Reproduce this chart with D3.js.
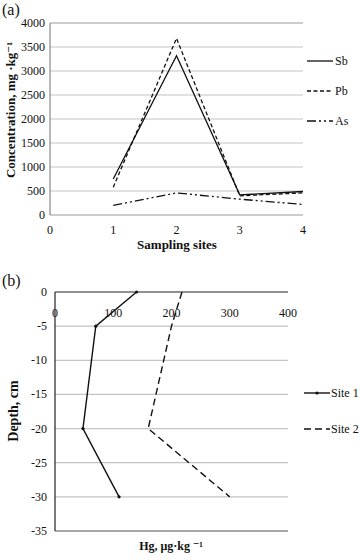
<!DOCTYPE html>
<html><head><meta charset="utf-8">
<script src="https://cdn.jsdelivr.net/npm/d3@7"></script>
<style>body{margin:0;background:#fff}svg{display:block}</style>
</head><body><div id="c"></div>
<script>
// Panel (a)
const sites = [1, 2, 3, 4];
const sb = [750, 3320, 420, 490];
const pb = [580, 3680, 400, 460];
const as = [200, 460, 330, 220];
const aXTicks = [0, 1, 2, 3, 4];
const aYTicks = [0, 500, 1000, 1500, 2000, 2500, 3000, 3500, 4000];
// Panel (b)
const depths = [0, -5, -20, -30];
const site1 = [140, 70, 48, 110];
const site2 = [218, 200, 160, 300];
const bXTicks = [0, 100, 200, 300, 400];
const bYTicks = [0, -5, -10, -15, -20, -25, -30, -35];

const FONT = "'Liberation Serif', 'Times New Roman', 'DejaVu Serif', serif";
const svg = d3.select("#c").append("svg").attr("width", 360).attr("height", 560)
  .attr("font-family", FONT).style("font-family", FONT).attr("fill", "#111");

// ---------- Panel (a)
const xa = d3.scaleLinear().domain([0, 4]).range([50, 303]);
const ya = d3.scaleLinear().domain([0, 4000]).range([215, 23]);
const ga = svg.append("g");
ga.append("text").attr("x", 2).attr("y", 15).attr("font-size", 16).text("(a)");
ga.selectAll(".gr").data(aYTicks.filter(d => d > 0)).join("line")
  .attr("x1", 50).attr("x2", 303).attr("y1", d => ya(d)).attr("y2", d => ya(d))
  .attr("stroke", d => d === 4000 ? "#999" : "#c4c4c4").attr("stroke-width", 1.2);
ga.append("line").attr("x1", 50).attr("x2", 303).attr("y1", ya(0)).attr("y2", ya(0)).attr("stroke", "#999").attr("stroke-width", 1.2);
ga.append("line").attr("x1", 50).attr("x2", 50).attr("y1", ya(0)).attr("y2", ya(4000)).attr("stroke", "#888").attr("stroke-width", 1.2);
ga.selectAll(".yt").data(aYTicks).join("text")
  .attr("x", 45).attr("y", d => ya(d) + 4).attr("text-anchor", "end").attr("font-size", 12).text(d => d);
ga.selectAll(".xt").data(aXTicks).join("text")
  .attr("x", d => xa(d)).attr("y", 234).attr("text-anchor", "middle").attr("font-size", 12).text(d => d);
ga.append("text").attr("x", 177).attr("y", 249).attr("text-anchor", "middle").attr("font-size", 13).attr("font-weight", "bold").text("Sampling sites");
ga.append("text").attr("transform", "translate(15,110) rotate(-90)").attr("text-anchor", "middle").attr("font-size", 13).attr("font-weight", "bold")
  .text("Concentration, mg ·kg\u207B\u00B9");

const seriesA = [
  {name: "Sb", vals: sb, dash: null, ly: 61},
  {name: "Pb", vals: pb, dash: "4,2.5", ly: 91},
  {name: "As", vals: as, dash: "9,3,2,3,2,3", ly: 121}
];
const lineA = d3.line().x((d, i) => xa(sites[i])).y(d => ya(d));
seriesA.forEach(s => {
  ga.append("path").attr("d", lineA(s.vals)).attr("fill", "none").attr("stroke", "#111")
    .attr("stroke-width", 1.3).attr("stroke-dasharray", s.dash);
  ga.append("line").attr("x1", 307).attr("x2", 333).attr("y1", s.ly).attr("y2", s.ly)
    .attr("stroke", "#111").attr("stroke-width", 1.3).attr("stroke-dasharray", s.dash);
  ga.append("text").attr("x", 335).attr("y", s.ly + 4).attr("font-size", 12).text(s.name);
});

// ---------- Panel (b)
const xb = d3.scaleLinear().domain([0, 400]).range([55, 288]);
const yb = d3.scaleLinear().domain([0, -35]).range([292, 531]);
const gb = svg.append("g");
gb.append("text").attr("x", 2).attr("y", 286).attr("font-size", 16).text("(b)");
gb.selectAll(".gr").data(bYTicks.filter(d => d < 0 && d > -35)).join("line")
  .attr("x1", 55).attr("x2", 288).attr("y1", d => yb(d)).attr("y2", d => yb(d))
  .attr("stroke", "#c4c4c4").attr("stroke-width", 1.2);
gb.append("line").attr("x1", 55).attr("x2", 288).attr("y1", yb(-35)).attr("y2", yb(-35)).attr("stroke", "#888").attr("stroke-width", 1.3);
gb.append("line").attr("x1", 55).attr("x2", 288).attr("y1", yb(0)).attr("y2", yb(0)).attr("stroke", "#222").attr("stroke-width", 1.2);
gb.append("line").attr("x1", 55).attr("x2", 55).attr("y1", yb(0)).attr("y2", yb(-35)).attr("stroke", "#222").attr("stroke-width", 1.2);
gb.selectAll(".yt").data(bYTicks).join("text")
  .attr("x", 47).attr("y", d => yb(d) + 4).attr("text-anchor", "end").attr("font-size", 12).text(d => d === 0 ? "0" : "-" + Math.abs(d));
gb.selectAll(".xt").data(bXTicks).join("text")
  .attr("x", d => xb(d)).attr("y", 317).attr("text-anchor", "middle").attr("font-size", 12).text(d => d);
gb.append("text").attr("x", 171).attr("y", 550).attr("text-anchor", "middle").attr("font-size", 12).attr("font-weight", "bold").text("Hg, \u03BCg\u00B7kg \u207B\u00B9");
gb.append("text").attr("transform", "translate(18,411) rotate(-90)").attr("text-anchor", "middle").attr("font-size", 14).attr("font-weight", "bold").text("Depth, cm");

const seriesB = [
  {name: "Site 1", vals: site1, dash: null, ly: 393, marker: true},
  {name: "Site 2", vals: site2, dash: "7,4", ly: 429, marker: false}
];
const lineB = d3.line().x(d => xb(d)).y((d, i) => yb(depths[i]));
seriesB.forEach(s => {
  gb.append("path").attr("d", lineB(s.vals)).attr("fill", "none").attr("stroke", "#111")
    .attr("stroke-width", 1.4).attr("stroke-dasharray", s.dash);
  if (s.marker) {
    gb.selectAll(".m" + s.name.replace(" ", "")).data(s.vals).join("circle")
      .attr("cx", d => xb(d)).attr("cy", (d, i) => yb(depths[i])).attr("r", 1.6).attr("fill", "#111");
    gb.append("circle").attr("cx", 317).attr("cy", s.ly).attr("r", 1.6).attr("fill", "#111");
  }
  gb.append("line").attr("x1", 304).attr("x2", 330).attr("y1", s.ly).attr("y2", s.ly)
    .attr("stroke", "#111").attr("stroke-width", 1.4).attr("stroke-dasharray", s.dash);
  gb.append("text").attr("x", 331).attr("y", s.ly + 4).attr("font-size", 12).text(s.name);
});
</script></body></html>
